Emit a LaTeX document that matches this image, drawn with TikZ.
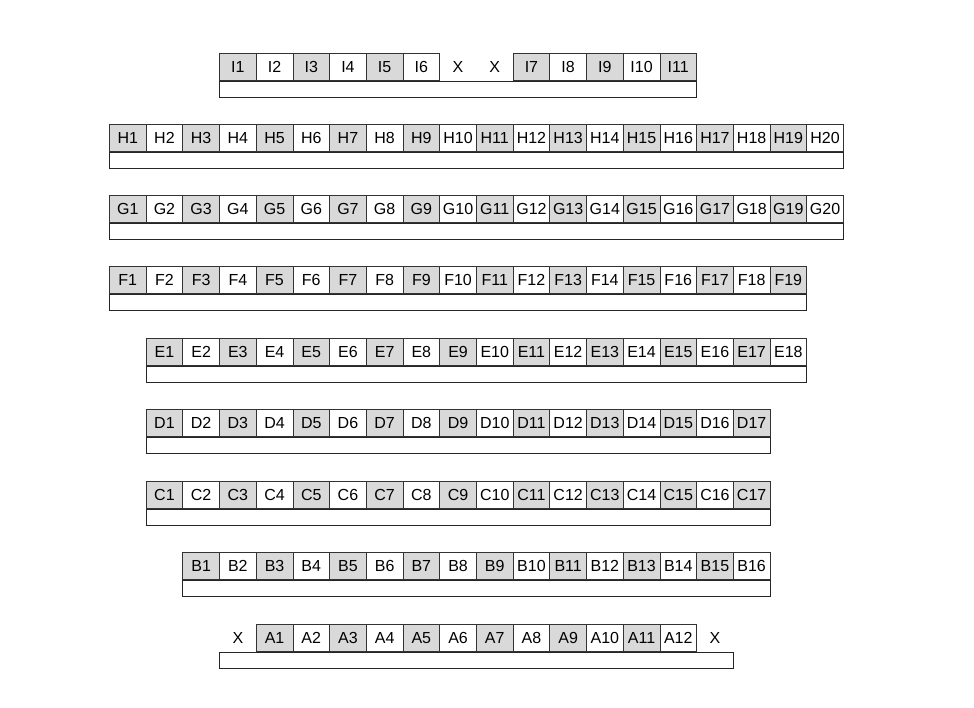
\documentclass[tikz,border=0pt]{standalone}
\usepackage{fontspec}
\setmainfont{Liberation Sans}
\tikzset{
  cell/.style={draw=black!80, line width=0.8pt, minimum width=36.7pt, minimum height=27pt,
    inner sep=0pt, anchor=north west, font=\fontsize{16}{16}\selectfont},
  blank/.style={cell, draw=none},
  bar/.style={draw=black!85, line width=1pt, minimum height=16.5pt, inner sep=0pt, anchor=north west}
}
\def\cw{36.7}
\begin{document}
\begin{tikzpicture}[x=1pt, y=-1pt]
  \useasboundingbox (0,0) rectangle (974,708);
  % rows H .. B
  \foreach \r/\y/\s/\n in {H/124/0/20, G/195/0/20, F/266/0/19, E/338/1/18, D/409/1/17, C/481/1/17, B/552/2/16} {
    \foreach \i in {1,...,\n} {
      \ifodd\i \def\cellfill{black!15}\else\def\cellfill{white}\fi
      \node[cell, fill=\cellfill] (\r\i) at ({109+(\s+\i-1)*\cw}, \y) {\r\i};
    }
    \node[bar, minimum width=\n*\cw pt] (\r bar) at (\r1.south west) {};
  }
  % row I
  \foreach \i in {1,...,6} {
    \ifodd\i \def\cellfill{black!15}\else\def\cellfill{white}\fi
    \node[cell, fill=\cellfill] (I\i) at ({109+(2+\i)*\cw}, 53) {I\i};
  }
  \node[blank] (Ix1) at ({109+9*\cw}, 53) {X};
  \node[blank] (Ix2) at ({109+10*\cw}, 53) {X};
  \foreach \i in {7,...,11} {
    \ifodd\i \def\cellfill{black!15}\else\def\cellfill{white}\fi
    \node[cell, fill=\cellfill] (I\i) at ({109+(4+\i)*\cw}, 53) {I\i};
  }
  \node[bar, minimum width=13*\cw pt] (Ibar) at (I1.south west) {};
  % row A
  \node[blank] (Ax1) at ({109+3*\cw}, 624) {X};
  \foreach \i in {1,...,12} {
    \ifodd\i \def\cellfill{black!15}\else\def\cellfill{white}\fi
    \node[cell, fill=\cellfill] (A\i) at ({109+(3+\i)*\cw}, 624) {A\i};
  }
  \node[blank] (Ax2) at ({109+16*\cw}, 624) {X};
  \node[bar, minimum width=14*\cw pt] (Abar) at (Ax1.south west) {};
\end{tikzpicture}
\end{document}
